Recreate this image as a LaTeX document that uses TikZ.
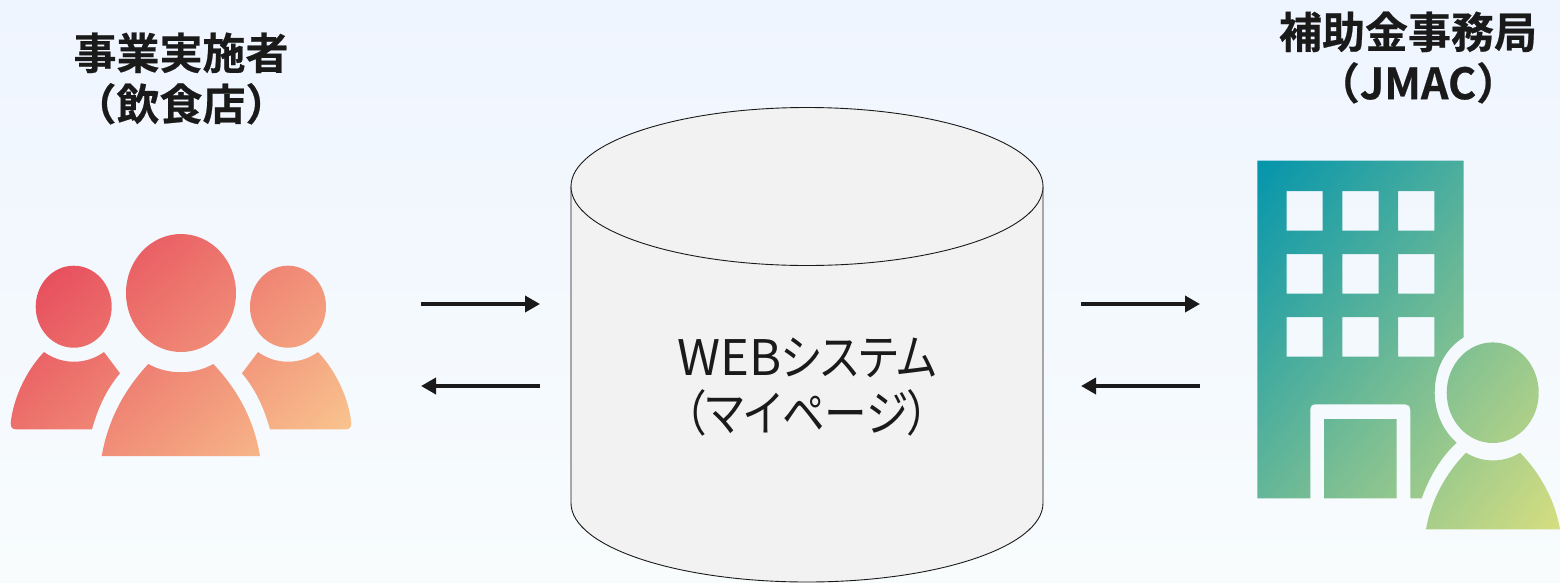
\documentclass[tikz,border=0pt]{standalone}
\usepackage{fontspec}
\setmainfont{Noto Sans CJK JP}
\newfontfamily\titlefont[BoldFont=Noto Sans CJK JP Bold,BoldFeatures={FakeBold=0.5}]{Noto Sans CJK JP}
\newfontfamily\bodyfont{Noto Sans CJK JP}
\newfontfamily\kanafont[RawFeature=+palt,FakeStretch=0.87]{Noto Sans CJK JP}
\usetikzlibrary{arrows.meta}
\definecolor{bgtop}{HTML}{EFF5FF}
\definecolor{bgbot}{HTML}{F8FCFD}
\definecolor{peopleA}{HTML}{E43C56}
\definecolor{peopleB}{HTML}{FACB91}
\definecolor{buildA}{HTML}{0495AC}
\definecolor{buildB}{HTML}{D6DE80}
\definecolor{cylfill}{HTML}{F2F2F2}
\definecolor{ink}{HTML}{1A1A1A}
\tikzset{
  flowarrow/.style={draw=ink,line width=3.6pt,-{Triangle[length=15pt,width=16pt]}},
  titlelabel/.style={font=\titlefont\bfseries\fontsize{43}{51}\selectfont,text=ink,align=center,inner sep=0pt},
  bodylabel/.style={font=\bodyfont\fontsize{49}{56}\selectfont,text=ink,align=center,inner sep=0pt},
  cylbody/.style={draw=ink,line width=0.9pt,fill=cylfill}
}
\begin{document}
\begin{tikzpicture}[x=1pt,y=-1pt]
\useasboundingbox (0,0) rectangle (1560,582);
\shade[top color=bgtop,bottom color=bgbot] (0,0) rectangle (1560,582);

% people icon
\begin{scope}
\clip
  (73.7,306.7) ellipse [x radius=38,y radius=41]
  (181,293) ellipse [x radius=55,y radius=59]
  (288,306.7) ellipse [x radius=38,y radius=41]
  (101.7,456) .. controls (108,420) and (124,390) .. (148.3,364)
     .. controls (168,375) and (194,375) .. (213.3,364)
     .. controls (238,390) and (254,420) .. (260,456) -- cycle
  (10.7,423) .. controls (13,400) and (25,372) .. (44,352)
     .. controls (62,365) and (86,365) .. (104,352)
     -- (120,373.3) .. controls (106,390) and (98,408) .. (92,429.3)
     -- (16,429.3) .. controls (12,429.3) and (10.7,427) .. (10.7,423) -- cycle
  (351.3,423) .. controls (349,400) and (337,372) .. (318,352)
     .. controls (300,365) and (276,365) .. (258,352)
     -- (242,373.3) .. controls (256,390) and (264,408) .. (270,429.3)
     -- (346,429.3) .. controls (350,429.3) and (351.3,427) .. (351.3,423) -- cycle;
\shade[top color=peopleA,bottom color=peopleB,shading angle=42] (-14,150) rectangle (376,540);
\end{scope}

% building icon
\begin{scope}[even odd rule]
\clip
  (1257.3,160.7) -- (1463.7,160.7) -- (1463.7,337.3)
     .. controls (1445,349) and (1434.7,369) .. (1434.7,392.7)
     .. controls (1434.7,412) and (1443,431) .. (1456.7,442.7)
     .. controls (1440,458) and (1429,478) .. (1421.7,498.3)
     -- (1410.3,498.3) -- (1410.3,410) .. controls (1410.3,406) and (1408,404.3) .. (1405,404.3)
     -- (1316,404.3) .. controls (1312,404.3) and (1310.3,406) .. (1310.3,410)
     -- (1310.3,498.3) -- (1257.3,498.3) -- cycle
  (1324,419) rectangle (1396.7,498.3)
  (1286.7,191) rectangle (1322.7,230.7)
  (1342.3,191) rectangle (1378.7,230.7)
  (1398,191) rectangle (1434.3,230.7)
  (1286.7,254) rectangle (1322.7,293.7)
  (1342.3,254) rectangle (1378.7,293.7)
  (1398,254) rectangle (1434.3,293.7)
  (1286.7,317) rectangle (1322.7,356.7)
  (1342.3,317) rectangle (1378.7,356.7)
  (1398,317) rectangle (1434.3,356.7)
  (1492.7,392.7) ellipse [x radius=46,y radius=50.3]
  (1426,529.3) .. controls (1431,500) and (1446,473) .. (1466,452.7)
     .. controls (1482,463) and (1504,463) .. (1520,452.7)
     .. controls (1540,473) and (1555,500) .. (1560,529.3) -- cycle;
\shade[top color=buildA,bottom color=buildB,shading angle=50.6] (1174.6,111) rectangle (1642.6,579);
\end{scope}

% cylinder
\path[cylbody] (571,186.5) -- (571,503) arc[start angle=180,end angle=360,x radius=236,y radius=-79] -- (1043,186.5) -- cycle;
\path[cylbody] (807,186.5) ellipse [x radius=236,y radius=79];

\node[bodylabel] (web) at (807,387) {WEB{\kanafont システム}\\{\kanafont （マイページ）}};
\node[titlelabel] (left) at (181,78.5) {事業実施者\\（飲食店）};
\node[titlelabel] (right) at (1408,57.5) {補助金事務局\\\hspace*{20pt}（JMAC）};

\coordinate (a1s) at (421,304); \coordinate (a1e) at (540,304);
\coordinate (a2s) at (540,386); \coordinate (a2e) at (421,386);
\coordinate (a3s) at (1081,304); \coordinate (a3e) at (1200,304);
\coordinate (a4s) at (1200,386); \coordinate (a4e) at (1081,386);
\draw[flowarrow] (a1s) -- (a1e);
\draw[flowarrow] (a2s) -- (a2e);
\draw[flowarrow] (a3s) -- (a3e);
\draw[flowarrow] (a4s) -- (a4e);
\end{tikzpicture}
\end{document}
